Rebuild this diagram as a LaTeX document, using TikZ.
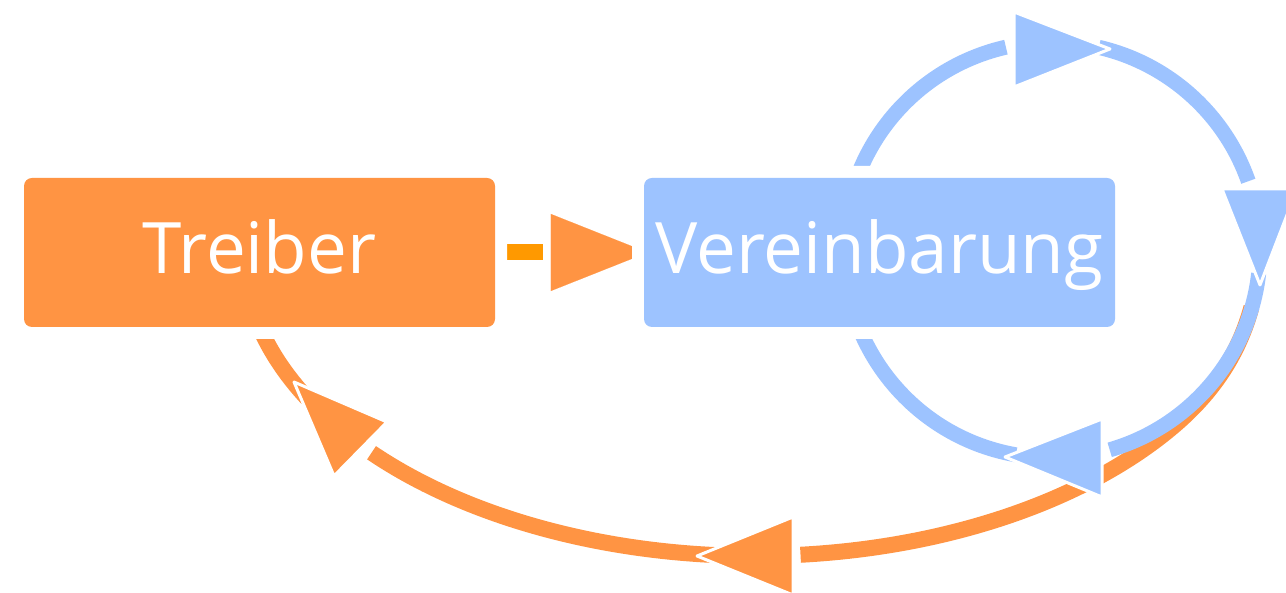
\documentclass[tikz,border=0pt]{standalone}
\usepackage{fontspec}
\setmainfont{Open Sans}
\usetikzlibrary{calc,arrows.meta}
\definecolor{orangeA}{HTML}{FF9443}
\definecolor{orangeB}{HTML}{FF9900}
\definecolor{blueA}{HTML}{9DC3FF}
\pgfdeclarelayer{background}
\pgfsetlayers{background,main}
\begin{document}
\begin{tikzpicture}[x=1pt,y=1pt,
  box/.style={rounded corners=8pt, minimum width=471pt, minimum height=149pt,
    inner sep=0pt, text=white, font=\fontsize{71}{85}\selectfont,
    text height=58pt, text depth=16pt,
    preaction={draw=white, line width=24pt}},
  thickline/.style={line width=15pt},
  head/.style={draw=white, line width=3pt, line join=round}]
\useasboundingbox (0,0) rectangle (1286,593);
% nodes
\node[box, fill=orangeA] (T) at (259.5,340.5) {Treiber};
\node[box, fill=blueA] (V) at (879.5,340.5) {Vereinbarung};
\coordinate (C) at (1052,343);
\coordinate (E) at (755,343);
\coordinate (S) at ($(C)+(-16:207.5)$);
\begin{pgfonlayer}{background}
% orange return curve (Vereinbarung -> Treiber)
\draw[orangeA, line width=16pt] (S) .. controls (1240.9,247.3) and (1220,206.5) .. ($(E)+(-35:512 and 306)$)
  arc[start angle=-35, end angle=-84.9, x radius=512, y radius=306];
\draw[orangeA, line width=16pt] ($(E)+(-94:512 and 306)$) arc[start angle=-94, end angle=-138.5, x radius=512, y radius=306];
\draw[orangeA, line width=16pt] ($(E)+(-151:512 and 306)$) arc[start angle=-151, end angle=-170, x radius=512, y radius=306];
\filldraw[orangeA, head] (793,76) -- (793,-2) -- (697,37) -- cycle;
\filldraw[orangeA, head] (387,171) -- (334,117) -- (294,211) -- cycle;
% blue loop
\draw[blueA, thickline] ($(C)+(77:208)$) arc[start angle=77, end angle=19.3, radius=208];
\draw[blueA, thickline] ($(C)+(-6.5:208)$) arc[start angle=-6.5, end angle=-73.9, radius=208];
\draw[blueA, thickline] ($(C)+(-100:208)$) arc[start angle=-100, end angle=-257.2, radius=208];
\filldraw[blueA, head] (1014,581) -- (1014,506) -- (1110,544) -- cycle;
\filldraw[blueA, head] (1222,404) -- (1297,404) -- (1260,308) -- cycle;
\filldraw[blueA, head] (1102,174) -- (1102,96) -- (1005,136) -- cycle;
% Treiber -> Vereinbarung
\draw[orangeB, line width=16pt, dash pattern=on 48pt off 200pt,
  -{Triangle[length=97pt, width=77pt, color=orangeA, line width=0.1pt]}, shorten >=-4pt]
  (T.east) -- (V.west);
\end{pgfonlayer}
\end{tikzpicture}
\end{document}
